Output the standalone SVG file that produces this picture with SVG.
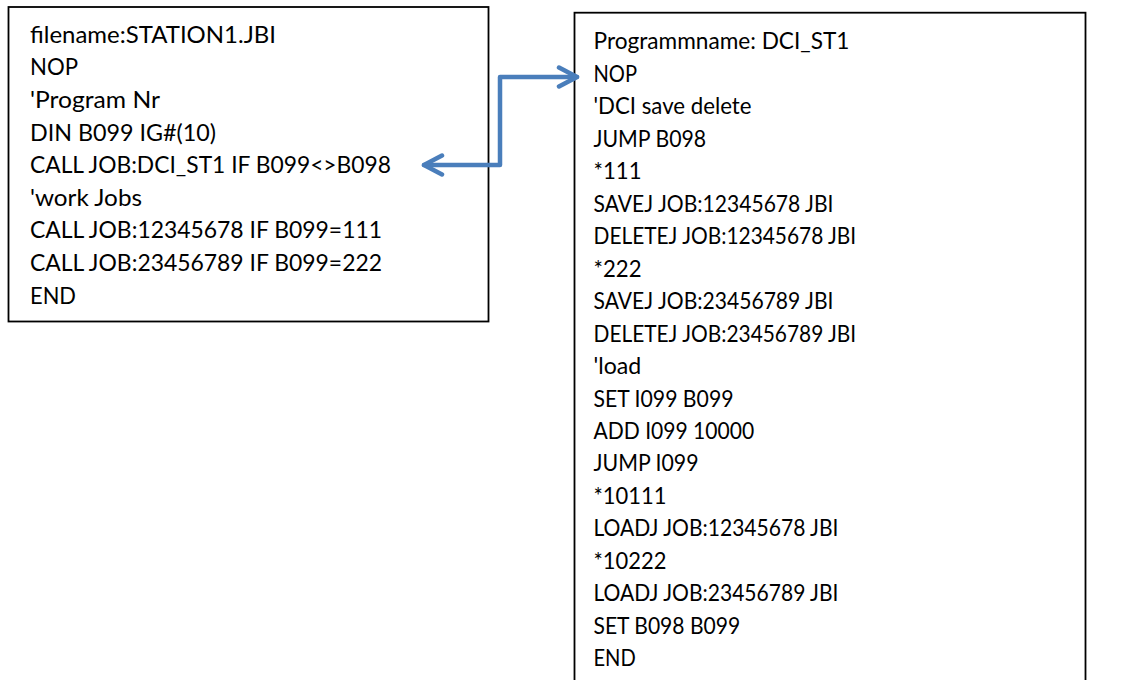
<svg xmlns="http://www.w3.org/2000/svg" width="1136" height="680" viewBox="0 0 1136 680">
<style>
.box{fill:#ffffff;stroke:#000000;stroke-width:1.8}
.t{font-family:Lato,"Open Sans","Liberation Sans",sans-serif;font-size:23px;fill:#000000}
.conn{fill:none;stroke:#4A7EBB;stroke-width:4.5;stroke-linejoin:round;stroke-linecap:round}
</style>
<defs>
<marker id="ah" viewBox="-22 -13 25 26" markerWidth="25" markerHeight="26" refX="0" refY="0" orient="auto-start-reverse" markerUnits="userSpaceOnUse">
<path d="M-18,-9.5 L0,0 L-18,9.5" fill="none" stroke="#4A7EBB" stroke-width="4.5" stroke-linecap="round" stroke-linejoin="round"/>
</marker>
</defs>
<rect width="1136" height="680" fill="#ffffff"/>
<g id="station1">
<rect class="box" x="8.5" y="7" width="480" height="314.5"/>
<text class="t" x="30" y="42.7" textLength="246" lengthAdjust="spacingAndGlyphs">filename:STATION1.JBI</text>
<text class="t" x="30" y="75.3" textLength="48" lengthAdjust="spacingAndGlyphs">NOP</text>
<text class="t" x="30" y="107.9" textLength="130" lengthAdjust="spacingAndGlyphs">'Program Nr</text>
<text class="t" x="30" y="140.5" textLength="186" lengthAdjust="spacingAndGlyphs">DIN B099 IG#(10)</text>
<text class="t" x="30" y="173.1" textLength="361" lengthAdjust="spacingAndGlyphs">CALL JOB:DCI_ST1 IF B099&lt;&gt;B098</text>
<text class="t" x="30" y="205.7" textLength="112" lengthAdjust="spacingAndGlyphs">'work Jobs</text>
<text class="t" x="30" y="238.3" textLength="352" lengthAdjust="spacingAndGlyphs">CALL JOB:12345678 IF B099=111</text>
<text class="t" x="30" y="270.9" textLength="352" lengthAdjust="spacingAndGlyphs">CALL JOB:23456789 IF B099=222</text>
<text class="t" x="30" y="303.5" textLength="46" lengthAdjust="spacingAndGlyphs">END</text>
</g>
<g id="dci_st1">
<rect class="box" x="574.5" y="12.7" width="511" height="690"/>
<text class="t" x="593.5" y="49.3" textLength="256" lengthAdjust="spacingAndGlyphs">Programmname: DCI_ST1</text>
<text class="t" x="593.5" y="81.8" textLength="43.5" lengthAdjust="spacingAndGlyphs">NOP</text>
<text class="t" x="593.5" y="114.2" textLength="158" lengthAdjust="spacingAndGlyphs">'DCI save delete</text>
<text class="t" x="593.5" y="146.7" textLength="112.7" lengthAdjust="spacingAndGlyphs">JUMP B098</text>
<text class="t" x="593.5" y="179.2" textLength="48" lengthAdjust="spacingAndGlyphs">*111</text>
<text class="t" x="593.5" y="211.6" textLength="240" lengthAdjust="spacingAndGlyphs">SAVEJ JOB:12345678 JBI</text>
<text class="t" x="593.5" y="244.1" textLength="262.7" lengthAdjust="spacingAndGlyphs">DELETEJ JOB:12345678 JBI</text>
<text class="t" x="593.5" y="276.6" textLength="48" lengthAdjust="spacingAndGlyphs">*222</text>
<text class="t" x="593.5" y="309.1" textLength="240" lengthAdjust="spacingAndGlyphs">SAVEJ JOB:23456789 JBI</text>
<text class="t" x="593.5" y="341.5" textLength="262.7" lengthAdjust="spacingAndGlyphs">DELETEJ JOB:23456789 JBI</text>
<text class="t" x="593.5" y="374" textLength="47.7" lengthAdjust="spacingAndGlyphs">'load</text>
<text class="t" x="593.5" y="406.5" textLength="140" lengthAdjust="spacingAndGlyphs">SET I099 B099</text>
<text class="t" x="593.5" y="438.9" textLength="160.7" lengthAdjust="spacingAndGlyphs">ADD I099 10000</text>
<text class="t" x="593.5" y="471.4" textLength="105" lengthAdjust="spacingAndGlyphs">JUMP I099</text>
<text class="t" x="593.5" y="503.9" textLength="73" lengthAdjust="spacingAndGlyphs">*10111</text>
<text class="t" x="593.5" y="536.4" textLength="245" lengthAdjust="spacingAndGlyphs">LOADJ JOB:12345678 JBI</text>
<text class="t" x="593.5" y="568.8" textLength="73" lengthAdjust="spacingAndGlyphs">*10222</text>
<text class="t" x="593.5" y="601.3" textLength="245" lengthAdjust="spacingAndGlyphs">LOADJ JOB:23456789 JBI</text>
<text class="t" x="593.5" y="633.8" textLength="146.7" lengthAdjust="spacingAndGlyphs">SET B098 B099</text>
<text class="t" x="593.5" y="666.2" textLength="42.3" lengthAdjust="spacingAndGlyphs">END</text>
</g>
<g id="connectors">
<path class="conn" d="M424,165 L500,165 L500,77 L577,77" marker-start="url(#ah)" marker-end="url(#ah)"/>
</g>
</svg>
